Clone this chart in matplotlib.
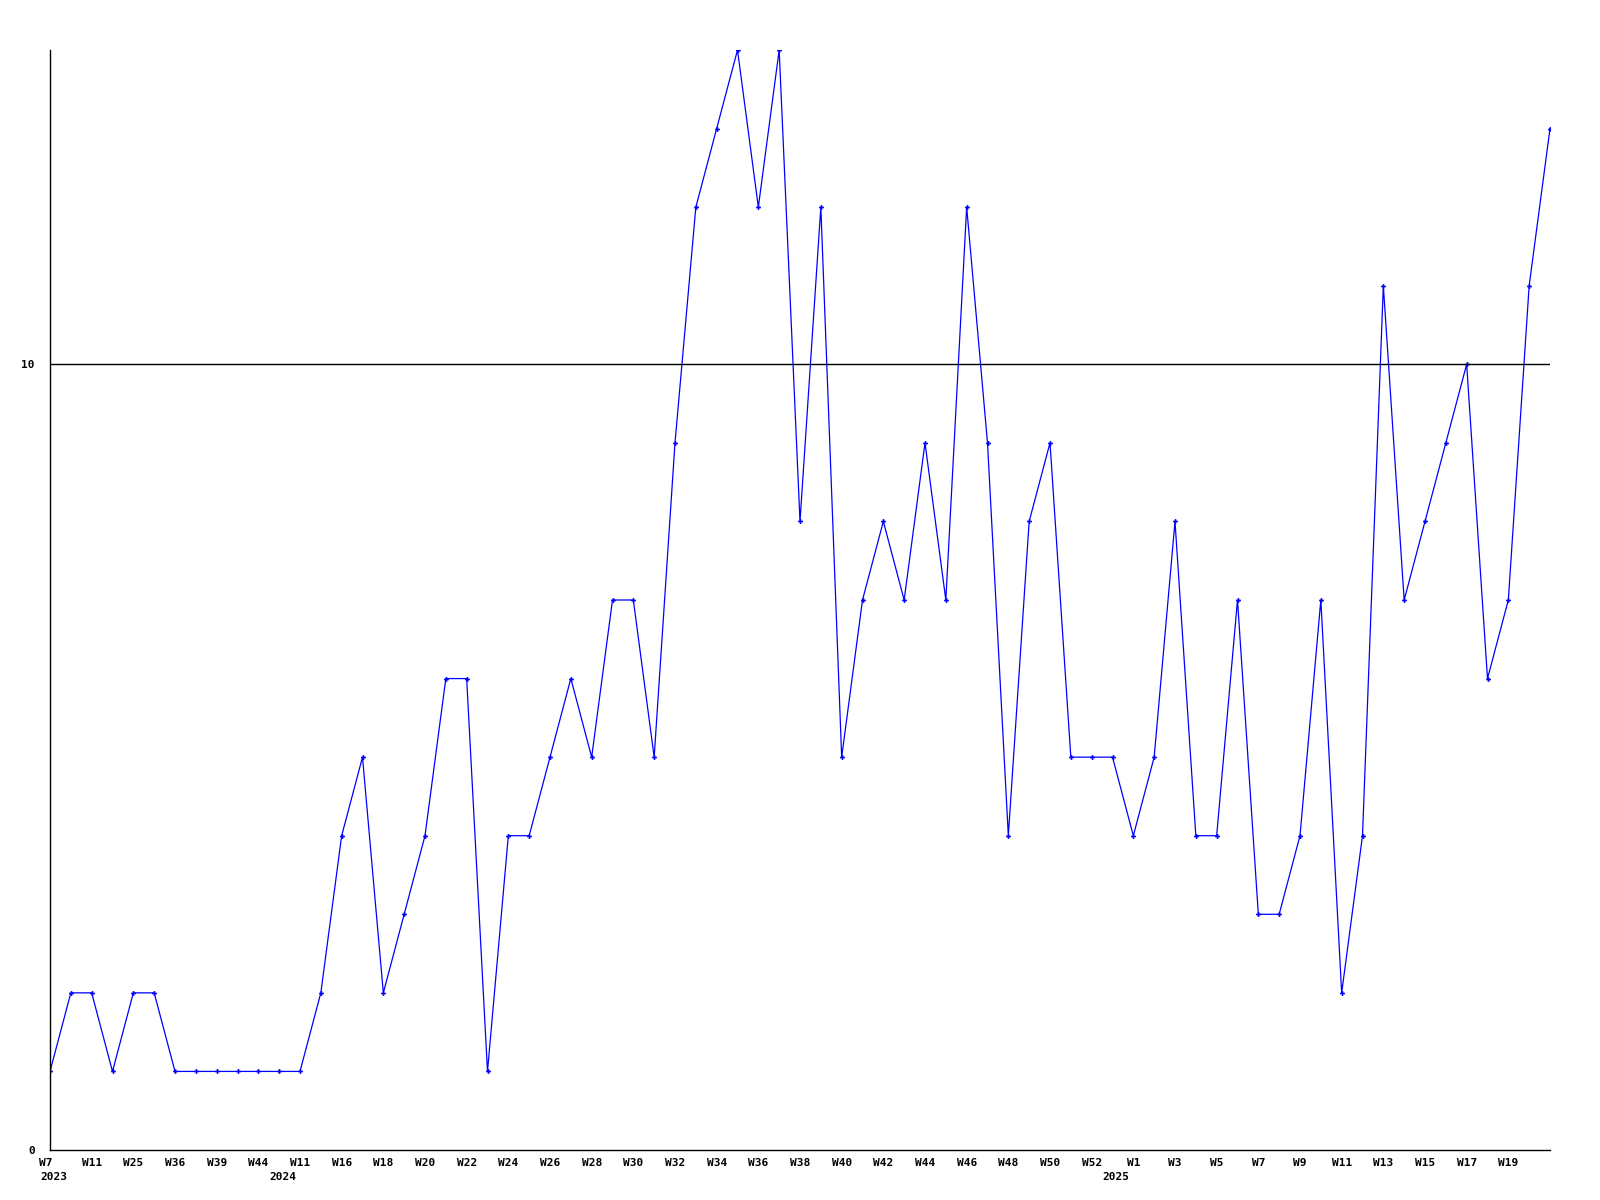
import matplotlib
matplotlib.use("Agg")
import matplotlib.pyplot as plt
import matplotlib.transforms as mtransforms

values = [1, 2, 2, 1, 2, 2, 1, 1, 1, 1, 1, 1, 1, 2, 4, 5, 2, 3, 4, 6,
          6, 1, 4, 4, 5, 6, 5, 7, 7, 5, 9, 12, 13, 14, 12, 14, 8, 12, 5, 7,
          8, 7, 9, 7, 12, 9, 4, 8, 9, 5, 5, 5, 4, 5, 8, 4, 4, 7, 3, 3,
          4, 7, 2, 4, 11, 7, 8, 9, 10, 6, 7, 11, 13]

tick_labels = ["W7", "W11", "W25", "W36", "W39", "W44", "W11", "W16", "W18", "W20",
               "W22", "W24", "W26", "W28", "W30", "W32", "W34", "W36", "W38", "W40",
               "W42", "W44", "W46", "W48", "W50", "W52", "W1", "W3", "W5", "W7",
               "W9", "W11", "W13", "W15", "W17", "W19"]
year_labels = ["2023", "2024", "2025"]
year_tick_index = [0, 6, 26]   # index into tick_labels
threshold = 10

font = dict(family="DejaVu Sans Mono", weight="bold", size=8)

fig = plt.figure(figsize=(16, 12), dpi=100)
ax = fig.add_axes([50/1600, 50/1200, 1500/1600, 1100/1200])

x = list(range(len(values)))
ax.plot(x, values, color="#0000ff", lw=0.9, marker="P", markersize=3.5,
        markeredgewidth=0, markerfacecolor="#0000ff")
ax.axhline(threshold, color="black", lw=1)

ax.set_xlim(0, len(values) - 1)
ax.set_ylim(0, 14)

for s in ["top", "right"]:
    ax.spines[s].set_visible(False)
for s in ["left", "bottom"]:
    ax.spines[s].set_linewidth(1)
    ax.spines[s].set_color("black")

tick_pos = [2 * i for i in range(len(tick_labels))]
ax.set_xticks(tick_pos)
ax.set_xticklabels(tick_labels, **font)
ax.tick_params(axis="x", length=0, pad=6)
ax.set_yticks([0, threshold])
ax.set_yticklabels(["0", "10"], **font)
ax.tick_params(axis="y", length=0, pad=16)
for lbl in ax.get_yticklabels():
    lbl.set_transform(lbl.get_transform() + mtransforms.ScaledTranslation(0.07, 0, fig.dpi_scale_trans))
# shift first x label slightly left like the reference
ax.get_xticklabels()[0].set_transform(ax.get_xticklabels()[0].get_transform()
                                      + mtransforms.ScaledTranslation(-0.04, 0, fig.dpi_scale_trans))

for lab, ti in zip(year_labels, year_tick_index):
    xp = tick_pos[ti]
    off = -10 if ti == 0 else -31
    trans = ax.get_xaxis_transform() + mtransforms.ScaledTranslation(off / 100, -22 / 100, fig.dpi_scale_trans)
    ax.text(xp, 0, lab, transform=trans, ha="left", va="top", **font)

fig.savefig("out.png", dpi=100)
